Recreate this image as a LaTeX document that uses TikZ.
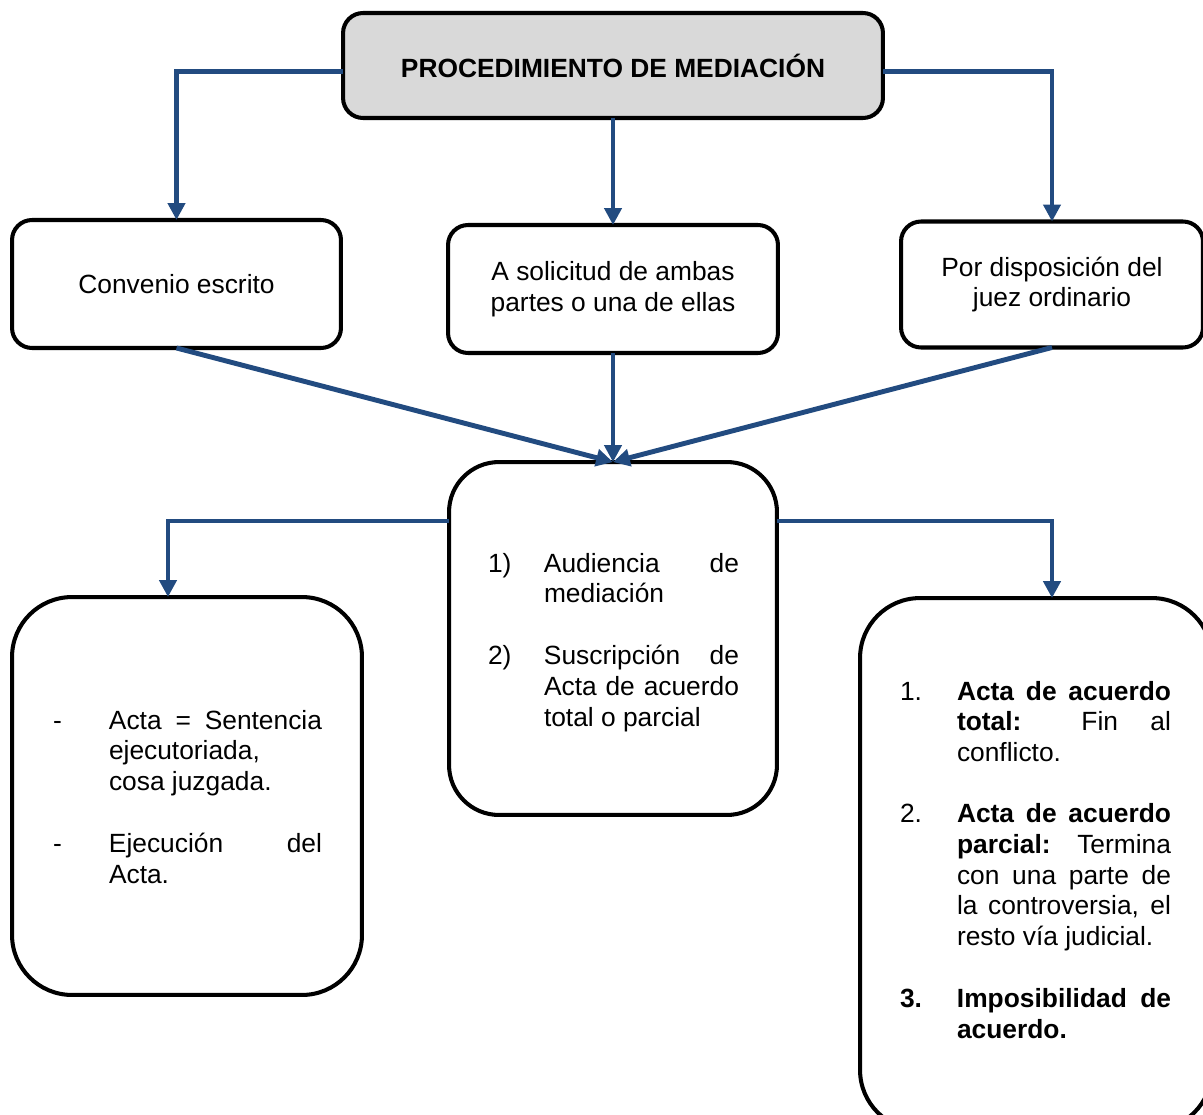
\documentclass[tikz,border=0pt]{standalone}
\usepackage{fontspec}
\setmainfont{Liberation Sans}
\usetikzlibrary{arrows.meta}
\newdimen\px \px=0.02cm
\definecolor{linkblue}{RGB}{34,75,128}
\definecolor{titlegray}{RGB}{217,217,217}
\begin{document}
\begin{tikzpicture}[x=0.02cm,y=-0.02cm,
  every node/.style={font=\fontsize{15pt}{17.5pt}\selectfont},
  box/.style={draw=black, line width=2.3pt, fill=white, inner sep=0pt, outer sep=0pt, align=center},
  conn/.style={draw=linkblue, line width=2.8pt, -{Triangle[length=9.6pt,width=9.6pt]}},
  txt/.style={inner sep=0pt, outer sep=0pt, anchor=base west}]
\useasboundingbox (0,0) rectangle (1203,1115);

% boxes
\node[box, fill=titlegray, rounded corners=0.4cm, minimum width=10.8cm, minimum height=2.1cm] (top) at (613,65.5) {\textbf{PROCEDIMIENTO DE MEDIACIÓN}};
\node[box, rounded corners=0.4cm, minimum width=6.58cm, minimum height=2.56cm] (conv) at (176.5,284) {Convenio escrito};
\node[box, rounded corners=0.4cm, minimum width=6.6cm, minimum height=2.56cm] (sol) at (613,289) {A solicitud de ambas\\partes o una de ellas};
\node[box, rounded corners=0.4cm, minimum width=6.04cm, minimum height=2.52cm] (por) at (1052,284.5) {Por disposición del\\juez ordinario};
\node[box, rounded corners=1cm, minimum width=6.56cm, minimum height=7.06cm] (center) at (613,638.5) {};
\node[box, rounded corners=1.2cm, minimum width=7cm, minimum height=7.96cm] (left) at (187,796) {};
\node[box, rounded corners=1.2cm, minimum width=7.04cm, minimum height=10.64cm] (right) at (1036,864) {};

% texts
\node[txt] (ctext) at (488,572) {\begin{minipage}[t]{251\px}
\makebox[56\px][l]{1)}\makebox[195\px][s]{Audiencia de}\\
\hspace*{56\px}mediación\\[17.7pt]
\makebox[56\px][l]{2)}\makebox[195\px][s]{Suscripción de}\\
\hspace*{56\px}\makebox[195\px][s]{Acta de acuerdo}\\
\hspace*{56\px}total o parcial
\end{minipage}};

\node[txt] (ltext) at (53,729) {\begin{minipage}[t]{269\px}
\makebox[56\px][l]{-}\makebox[213\px][s]{Acta = Sentencia}\\
\hspace*{56\px}ejecutoriada,\\
\hspace*{56\px}cosa juzgada.\\[17.7pt]
\makebox[56\px][l]{-}\makebox[213\px][s]{Ejecución del}\\
\hspace*{56\px}Acta.
\end{minipage}};

\node[txt] (rtext) at (900,700) {\begin{minipage}[t]{271\px}
\makebox[57\px][l]{1.}\makebox[214\px][s]{\textbf{Acta de acuerdo}}\\
\hspace*{57\px}\makebox[214\px][s]{\textbf{total:} Fin al}\\
\hspace*{57\px}conflicto.\\[17.3pt]
\makebox[57\px][l]{2.}\makebox[214\px][s]{\textbf{Acta de acuerdo}}\\
\hspace*{57\px}\makebox[214\px][s]{\textbf{parcial:} Termina}\\
\hspace*{57\px}\makebox[214\px][s]{con una parte de}\\
\hspace*{57\px}\makebox[214\px][s]{la controversia, el}\\
\hspace*{57\px}resto vía judicial.\\[17.7pt]
\makebox[57\px][l]{\textbf{3.}}\makebox[214\px][s]{\textbf{Imposibilidad de}}\\
\hspace*{57\px}\textbf{acuerdo.}
\end{minipage}};

% connectors
\draw[conn] ([yshift=-0.12cm]top.west) -| (conv.north);
\draw[conn] (top.south) -- (sol.north);
\draw[conn] ([yshift=-0.12cm]top.east) -| (por.north);
\draw[conn] (conv.south) -- (center.north);
\draw[conn] (sol.south) -- (center.north);
\draw[conn] (por.south) -- (center.north);
\draw[conn] ([yshift=-1.18cm]center.north west) -| ([xshift=-0.38cm]left.north);
\draw[conn] ([yshift=-1.18cm]center.north east) -| ([xshift=0.32cm]right.north);
\end{tikzpicture}
\end{document}
